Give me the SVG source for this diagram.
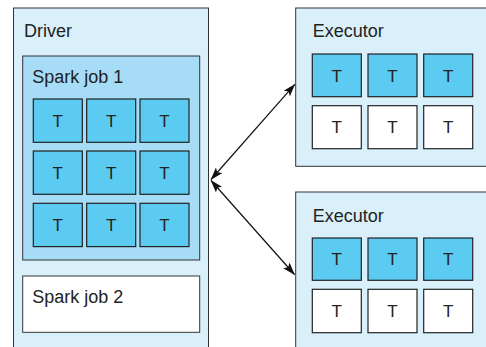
<svg xmlns="http://www.w3.org/2000/svg" width="486" height="347" viewBox="0 0 486 347">
<style>
.outer{fill:#d9f0fa;stroke:#333;stroke-width:1}
.job1{fill:#a6dcf5;stroke:#333;stroke-width:1}
.job2{fill:#fff;stroke:#333;stroke-width:1}
.tb{fill:#5bcbf1;stroke:#222;stroke-width:1.2}
.tw{fill:#fff;stroke:#222;stroke-width:1.2}
.lbl{font-family:"Liberation Sans",Arial,sans-serif;font-size:18px;fill:#222}
.t{font-family:"Liberation Sans",Arial,sans-serif;font-size:17px;fill:#222;text-anchor:middle}
.conn{stroke:#111;stroke-width:1.2;fill:none}
</style>
<defs>
<marker id="ah" viewBox="0 0 12 8" refX="11.5" refY="4" markerWidth="13" markerHeight="8.5" markerUnits="userSpaceOnUse" orient="auto-start-reverse">
<path d="M0,0 L12,4 L0,8 L2.5,4 Z" fill="#111"/>
</marker>
</defs>
<rect width="486" height="347" fill="#fff"/>
<g id="driver">
<rect class="outer" x="13.5" y="8" width="195" height="345"/>
<text class="lbl" x="24" y="37">Driver</text>
</g>
<g id="spark-job-1">
<rect class="job1" x="22.7" y="56" width="177" height="204"/>
<text class="lbl" x="32.3" y="82.7">Spark job 1</text>
<rect class="tb" x="33.3" y="99" width="49" height="43.3"/><text class="t" x="57.8" y="126.7">T</text>
<rect class="tb" x="86.7" y="99" width="49" height="43.3"/><text class="t" x="111.2" y="126.7">T</text>
<rect class="tb" x="140" y="99" width="49" height="43.3"/><text class="t" x="164.5" y="126.7">T</text>
<rect class="tb" x="33.3" y="151" width="49" height="43.3"/><text class="t" x="57.8" y="178.7">T</text>
<rect class="tb" x="86.7" y="151" width="49" height="43.3"/><text class="t" x="111.2" y="178.7">T</text>
<rect class="tb" x="140" y="151" width="49" height="43.3"/><text class="t" x="164.5" y="178.7">T</text>
<rect class="tb" x="33.3" y="203.3" width="49" height="43.3"/><text class="t" x="57.8" y="231">T</text>
<rect class="tb" x="86.7" y="203.3" width="49" height="43.3"/><text class="t" x="111.2" y="231">T</text>
<rect class="tb" x="140" y="203.3" width="49" height="43.3"/><text class="t" x="164.5" y="231">T</text>
</g>
<g id="spark-job-2">
<rect class="job2" x="22.7" y="276" width="177" height="56.3"/>
<text class="lbl" x="32.3" y="302.7">Spark job 2</text>
</g>
<g id="executor-1">
<rect class="outer" x="295.7" y="8" width="200" height="158.3"/>
<text class="lbl" x="312.7" y="37.3">Executor</text>
<rect class="tb" x="312.3" y="54" width="49" height="42.7"/><text class="t" x="336.8" y="81.5">T</text>
<rect class="tb" x="368" y="54" width="49" height="42.7"/><text class="t" x="392.5" y="81.5">T</text>
<rect class="tb" x="423.7" y="54" width="49" height="42.7"/><text class="t" x="448.2" y="81.5">T</text>
<rect class="tw" x="312.3" y="105.7" width="49" height="43"/><text class="t" x="336.8" y="133.3">T</text>
<rect class="tw" x="368" y="105.7" width="49" height="43"/><text class="t" x="392.5" y="133.3">T</text>
<rect class="tw" x="423.7" y="105.7" width="49" height="43"/><text class="t" x="448.2" y="133.3">T</text>
</g>
<g id="executor-2">
<rect class="outer" x="295.7" y="192" width="200" height="165"/>
<text class="lbl" x="312.7" y="221.7">Executor</text>
<rect class="tb" x="312.3" y="238" width="49" height="42.3"/><text class="t" x="336.8" y="265.3">T</text>
<rect class="tb" x="368" y="238" width="49" height="42.3"/><text class="t" x="392.5" y="265.3">T</text>
<rect class="tb" x="423.7" y="238" width="49" height="42.3"/><text class="t" x="448.2" y="265.3">T</text>
<rect class="tw" x="312.3" y="289.3" width="49" height="43.4"/><text class="t" x="336.8" y="317">T</text>
<rect class="tw" x="368" y="289.3" width="49" height="43.4"/><text class="t" x="392.5" y="317">T</text>
<rect class="tw" x="423.7" y="289.3" width="49" height="43.4"/><text class="t" x="448.2" y="317">T</text>
</g>
<g id="connectors">
<line class="conn" x1="211" y1="179.5" x2="294.8" y2="84.3" marker-start="url(#ah)" marker-end="url(#ah)"/>
<line class="conn" x1="211" y1="180.5" x2="294.5" y2="274.5" marker-start="url(#ah)" marker-end="url(#ah)"/>
</g>
</svg>
